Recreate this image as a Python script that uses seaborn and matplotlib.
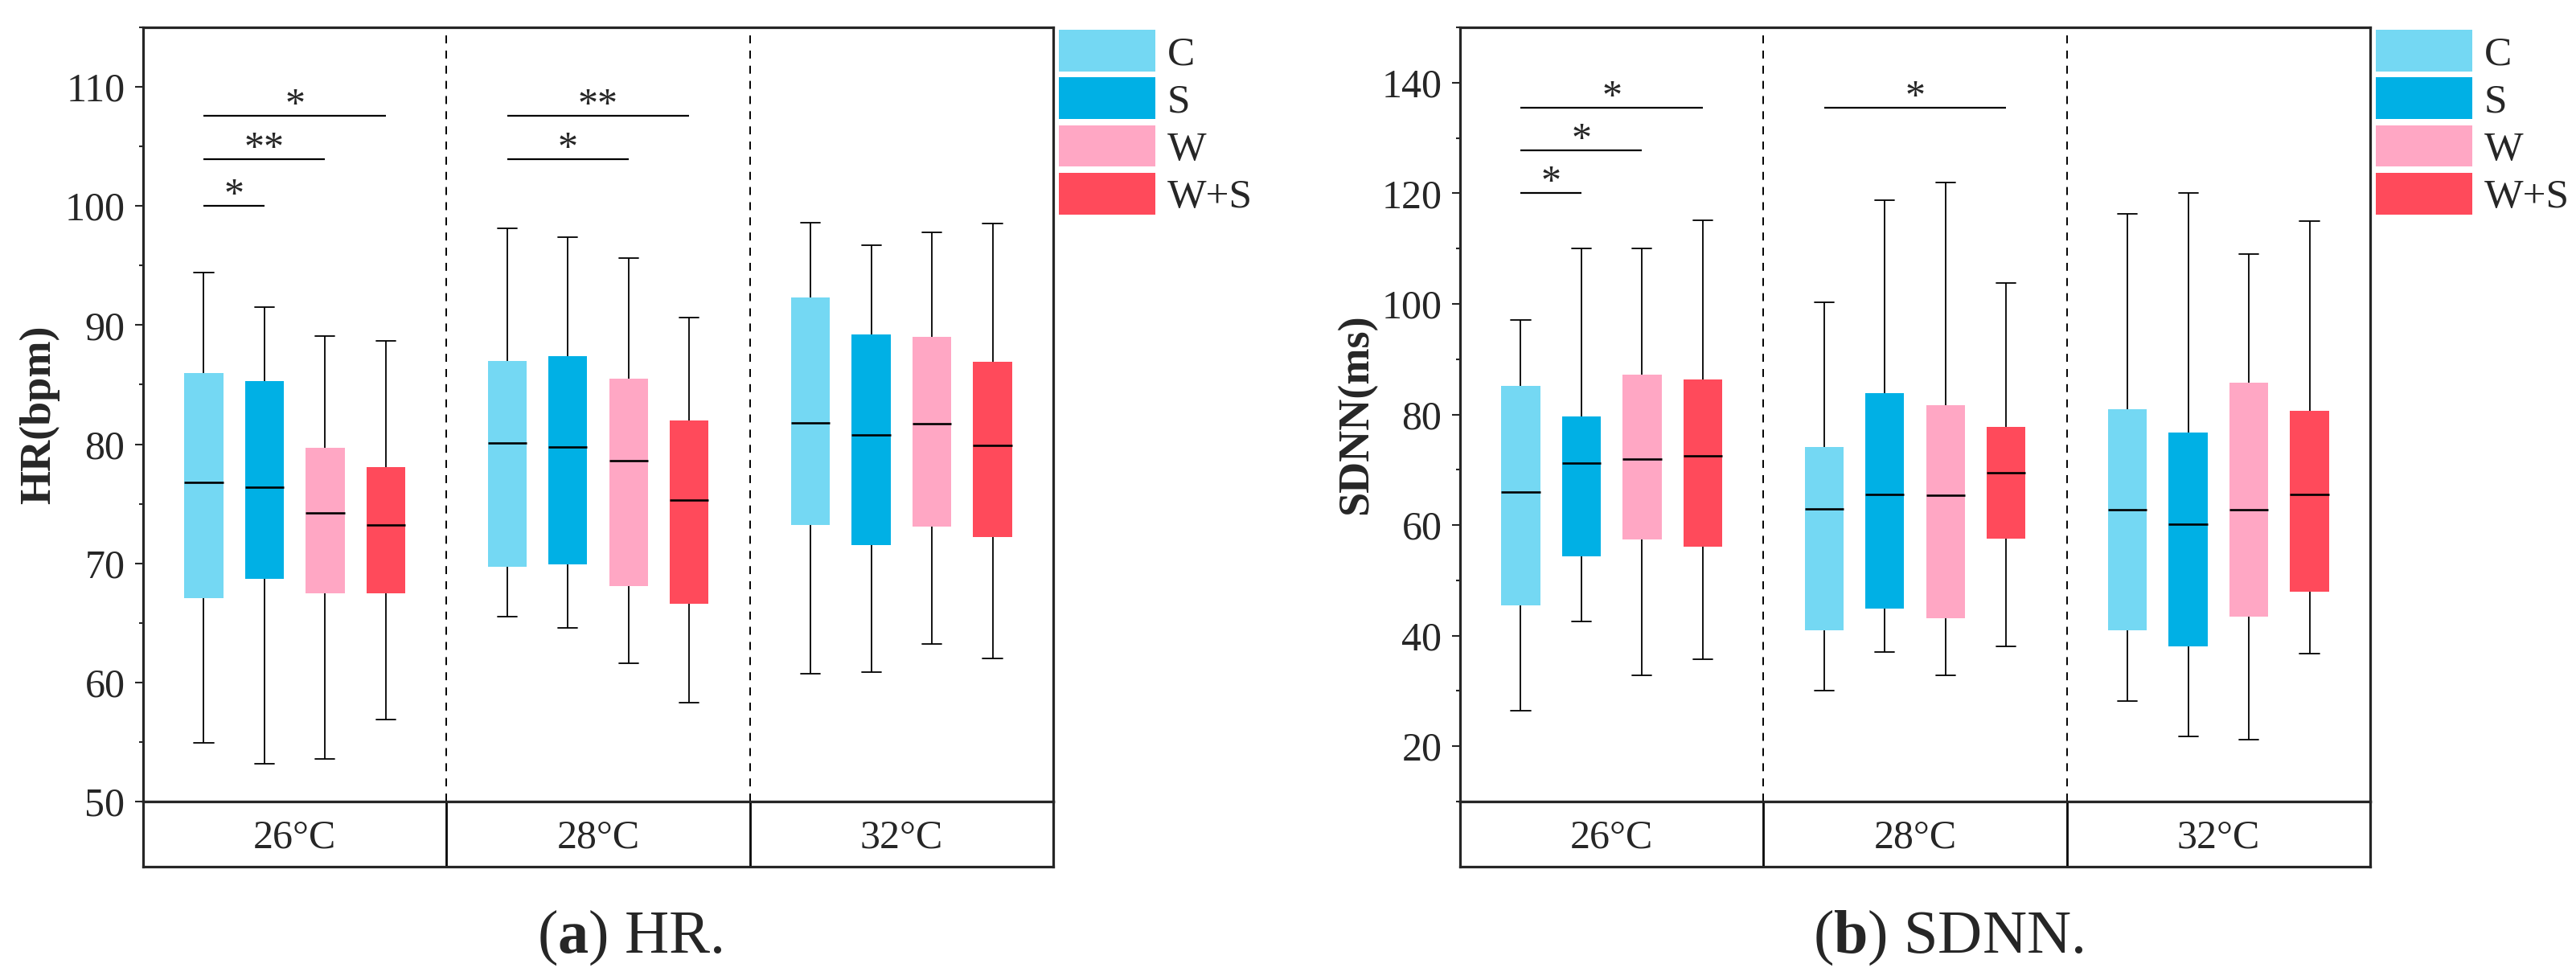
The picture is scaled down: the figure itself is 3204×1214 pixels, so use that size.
import numpy as np
import pandas as pd
import seaborn as sns
import matplotlib.pyplot as plt
from matplotlib.patches import Patch
from matplotlib.ticker import MultipleLocator

# Categorias
temps = ["26°C", "28°C", "32°C"]
conds = ["C", "S", "W", "W+S"]
colores = ["#74D8F3", "#00B0E5", "#FFA7C4", "#FF4A5B"]

# HR (bpm) -> orden: 26°C (C,S,W,W+S), 28°C (...), 32°C (...)
hr_min = [54.9, 53.2, 53.6, 56.9, 65.5, 64.6, 61.6, 58.3, 60.7, 60.9, 63.2, 62.0]
hr_q1 = [67.1, 68.7, 67.5, 67.5, 69.7, 69.9, 68.1, 66.6, 73.2, 71.5, 73.1, 72.2]
hr_med = [76.8, 76.4, 74.2, 73.2, 80.1, 79.8, 78.6, 75.3, 81.8, 80.8, 81.7, 79.9]
hr_q3 = [86.0, 85.3, 79.7, 78.1, 87.0, 87.4, 85.5, 82.0, 92.3, 89.2, 89.0, 86.9]
hr_max = [94.4, 91.5, 89.1, 88.7, 98.1, 97.4, 95.6, 90.6, 98.6, 96.7, 97.8, 98.5]

# SDNN (ms)
sdnn_min = [26.5, 42.6, 32.8, 35.8, 30.1, 37.0, 32.8, 38.0, 28.2, 21.8, 21.2, 36.8]
sdnn_q1 = [45.5, 54.3, 57.4, 56.1, 41.0, 44.9, 43.1, 57.6, 41.0, 38.0, 43.5, 47.9]
sdnn_med = [65.9, 71.2, 71.9, 72.5, 62.9, 65.6, 65.4, 69.5, 62.7, 60.2, 62.8, 65.6]
sdnn_q3 = [85.2, 79.7, 87.2, 86.3, 74.1, 83.8, 81.6, 77.8, 81.0, 76.8, 85.7, 80.7]
sdnn_max = [97.1, 110.0, 110.0, 115.1, 100.3, 118.8, 121.9, 103.7, 116.2, 120.1, 109.0, 115.0]

# Significancia (siempre desde C hasta la condicion indicada)
hr_sig_temp = [0, 0, 0, 1, 1]
hr_sig_hasta = [1, 2, 3, 2, 3]
hr_sig_y = [100.0, 103.9, 107.6, 103.9, 107.6]
hr_sig_txt = ["*", "**", "*", "*", "**"]

sdnn_sig_temp = [0, 0, 0, 1]
sdnn_sig_hasta = [1, 2, 3, 3]
sdnn_sig_y = [120.0, 127.7, 135.5, 135.5]
sdnn_sig_txt = ["*", "*", "*", "*"]

W, H = 3205, 1214

sns.set_style("ticks")
plt.rcParams['font.family'] = ['Liberation Serif', 'DejaVu Serif']
plt.rcParams['mathtext.fontset'] = 'custom'
plt.rcParams['mathtext.rm'] = 'Liberation Serif'
plt.rcParams['mathtext.bf'] = 'Liberation Serif:bold'


def armarDatos(mn, q1, med, q3, mx):
    filas = []
    for k in range(len(mn)):
        for v in (mn[k], q1[k], med[k], q3[k], mx[k]):
            filas.append({"temp": temps[k // 4], "cond": conds[k % 4], "valor": v})
    return pd.DataFrame(filas)


def panel(fig, x_px, datos, ylim, yticks, minor, ylabel, sig, caption, cap_x):
    ax_w = 1132 / W
    ax = fig.add_axes([x_px / W, 1 - 997 / H, ax_w, (997 - 34) / H])
    banda = fig.add_axes([x_px / W, 1 - 1078 / H, ax_w, 81 / H])

    df = armarDatos(*datos)
    sns.boxplot(data=df, x="temp", y="valor", hue="cond", order=temps,
                hue_order=conds, palette=colores, saturation=1, width=0.8,
                gap=0.36, whis=(0, 100), linecolor="black", linewidth=1.3,
                fliersize=0, legend=False, ax=ax,
                boxprops=dict(linewidth=0),
                medianprops=dict(linewidth=1.9, color="black"),
                whiskerprops=dict(linewidth=1.3, color="black"),
                capprops=dict(linewidth=1.3, color="black"))

    ax.set_xlim(-0.5, 2.5)
    ax.set_ylim(*ylim)
    ax.set_yticks(yticks)
    ax.yaxis.set_minor_locator(MultipleLocator(minor))
    ax.tick_params(axis="x", bottom=False, labelbottom=False)
    ax.tick_params(axis="y", which="major", direction="out", length=7.2,
                   width=1.5, labelsize=36, pad=9)
    ax.tick_params(axis="y", which="minor", direction="out", length=3.5, width=1.5)
    ax.set_xlabel("")
    ax.set_ylabel(ylabel, fontsize=39, fontweight="bold")
    ax.yaxis.set_label_coords(-0.092, 0.5)
    for s in ax.spines.values():
        s.set_visible(True)
        s.set_linewidth(2.3)
    for xv in (0.5, 1.5):
        ax.axvline(xv, color="black", lw=1.4, ls=(0, (5.1, 4.6)))

    # barras de significancia
    offs = [-0.3, -0.1, 0.1, 0.3]
    sig_temp, sig_hasta, sig_y, sig_txt = sig
    for t, h, yv, txt in zip(sig_temp, sig_hasta, sig_y, sig_txt):
        x1 = t + offs[0]
        x2 = t + offs[h]
        ax.plot([x1, x2], [yv, yv], color="black", lw=1.6, solid_capstyle="butt")
        ax.text((x1 + x2) / 2, yv, txt, ha="center", va="baseline", fontsize=36)

    # leyenda
    handles = [Patch(facecolor=c, edgecolor="none", label=l) for c, l in zip(colores, conds)]
    ax.legend(handles=handles, loc="upper left", bbox_to_anchor=(1 + 7 / 1132, 1 - 3 / 963),
              borderaxespad=0, borderpad=0, frameon=False, handlelength=2.33,
              handleheight=1.17, labelspacing=0.1, handletextpad=0.29, fontsize=37)

    # banda de categorias
    banda.set_xlim(-0.5, 2.5)
    banda.set_ylim(0, 1)
    banda.set_xticks([])
    banda.set_yticks([])
    for s in banda.spines.values():
        s.set_linewidth(2.3)
    for xv in (0.5, 1.5):
        banda.axvline(xv, color="black", lw=2.0)
    for i, t in enumerate(temps):
        banda.text(i, 0.284, t, ha="center", va="baseline", fontsize=36)

    fig.text(cap_x / W, 1 - 1185 / H, caption, ha="center", va="baseline", fontsize=55)
    return ax


fig = plt.figure(figsize=(W / 100, H / 100), dpi=100)

panel(fig, 178, (hr_min, hr_q1, hr_med, hr_q3, hr_max), (50, 115),
      [50, 60, 70, 80, 90, 100, 110], 5, "HR(bpm)",
      (hr_sig_temp, hr_sig_hasta, hr_sig_y, hr_sig_txt),
      r"($\mathbf{a}$) HR.", 783)

panel(fig, 1816, (sdnn_min, sdnn_q1, sdnn_med, sdnn_q3, sdnn_max), (10, 150),
      [20, 40, 60, 80, 100, 120, 140], 10, "SDNN(ms)",
      (sdnn_sig_temp, sdnn_sig_hasta, sdnn_sig_y, sdnn_sig_txt),
      r"($\mathbf{b}$) SDNN.", 2423)

fig.savefig("out.png", dpi=100)
plt.close(fig)
